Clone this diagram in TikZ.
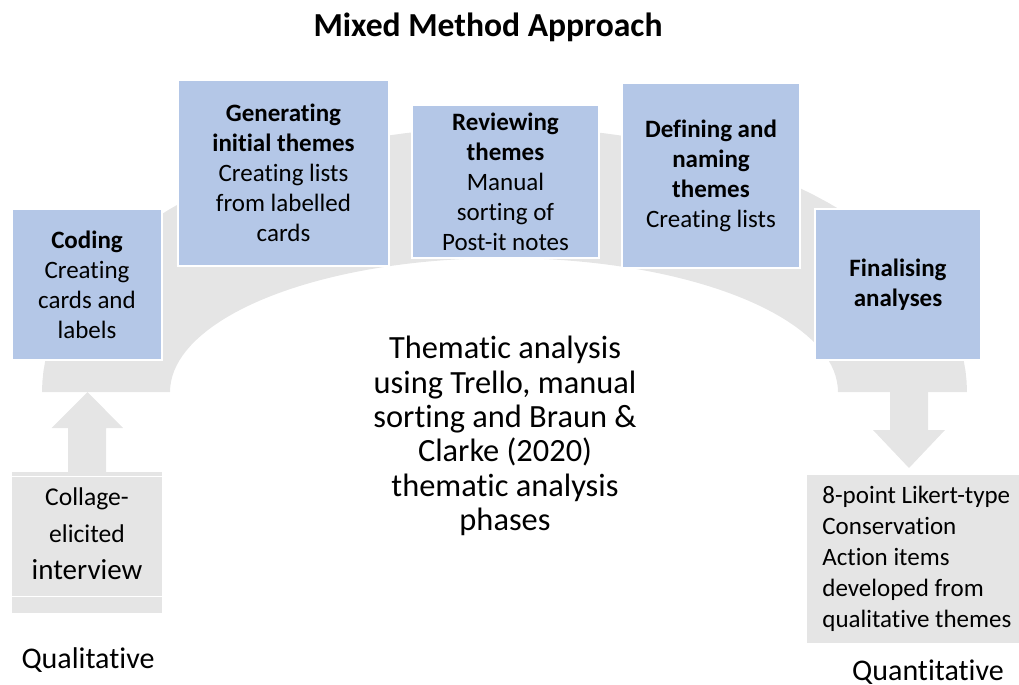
\documentclass[tikz,border=0pt]{standalone}
\usepackage{fontspec}
\setmainfont{Carlito}[Ligatures={NoCommon,NoContextual}]
\usetikzlibrary{positioning}

\definecolor{phaseblue}{RGB}{180,199,231}
\definecolor{archgrey}{RGB}{229,229,229}

\begin{document}
\begin{tikzpicture}[x=0.5pt,y=-0.5pt,
  phase/.style={fill=phaseblue, draw=white, line width=0.6pt, align=center,
    inner sep=0pt, font=\fontsize{12.5}{15}\selectfont},
  greybox/.style={fill=archgrey, inner sep=0pt},
  plain/.style={align=center, inner sep=0pt}]
  \useasboundingbox (0,0) rectangle (1019,685);

  % the arch behind the phases
  \fill[archgrey] plot[domain=180:360, samples=80] ({504.5+462.5*cos(\x)},{392+265*sin(\x)})
    -- (838,392)
    -- plot[domain=360:180, samples=80] ({504+334*cos(\x)},{392+134*sin(\x)}) -- cycle;

  \node[plain, font=\fontsize{16.8}{20}\selectfont\bfseries] (title) at (488,27) {Mixed Method Approach};

  % phases
  \node[phase, minimum width=75pt, minimum height=75.5pt] (coding) at (87,284.5)
    {\textbf{Coding}\\Creating\\cards and\\labels};
  \node[phase, minimum width=105.5pt, minimum height=93pt] (generating) at (283.5,173)
    {\textbf{Generating}\\\textbf{initial themes}\\Creating lists\\from labelled\\cards};
  \node[phase, minimum width=93.5pt, minimum height=76.5pt] (reviewing) at (505.5,181.5)
    {\textbf{Reviewing}\\\textbf{themes}\\Manual\\sorting of\\Post-it notes};
  \node[phase, minimum width=89pt, minimum height=92.5pt] (defining) at (711,175.5)
    {\textbf{Defining and}\\\textbf{naming}\\\textbf{themes}\\Creating lists};
  \node[phase, minimum width=83pt, minimum height=75.5pt] (finalising) at (898,284.5)
    {\textbf{Finalising}\\\textbf{analyses}};

  \node[plain, font=\fontsize{16.2}{17.2}\selectfont] (thematic) at (505,436)
    {Thematic analysis\\using Trello, manual\\sorting and Braun \&\\Clarke (2020)\\thematic analysis\\phases};

  % qualitative side
  \node[greybox, minimum width=75pt, minimum height=70.5pt] (collage) at (87,542.5) {};
  \draw[white, line width=0.8pt] (collage.north west) ++(0,5) -- ++(150,0);
  \draw[white, line width=0.8pt] (collage.south west) ++(0,-17) -- ++(150,0);
  \node[plain, font=\fontsize{12.8}{18.5}\selectfont] at (87,534)
    {Collage-\\elicited\\{\fontsize{14.5}{18}\selectfont interview}};
  \coordinate (leftfoot) at (87.5,392);
  \fill[archgrey] (leftfoot) -- ++(35.5,36) -- ++(-17,0) -- ++(0,44) -- ++(-38,0)
    -- ++(0,-44) -- ++(-16.5,0) -- cycle;
  \node[plain, font=\fontsize{15}{18}\selectfont] (qual) at (88,660) {Qualitative};

  % quantitative side
  \node[greybox, minimum width=106pt, minimum height=84pt] (likert) at (913,559) {};
  \node[plain, align=left, anchor=west, font=\fontsize{12.5}{15.5}\selectfont] (likerttext) at (822,559)
    {8-point Likert-type\\Conservation\\Action items\\developed from\\qualitative themes};
  \coordinate (rightfoot) at (909,468);
  \fill[archgrey] (rightfoot) -- ++(36,-38) -- ++(-17,0) -- ++(0,-40) -- ++(-38,0)
    -- ++(0,40) -- ++(-17,0) -- cycle;
  \node[plain, font=\fontsize{15}{18}\selectfont] (quant) at (928,672) {Quantitative};
\end{tikzpicture}
\end{document}
